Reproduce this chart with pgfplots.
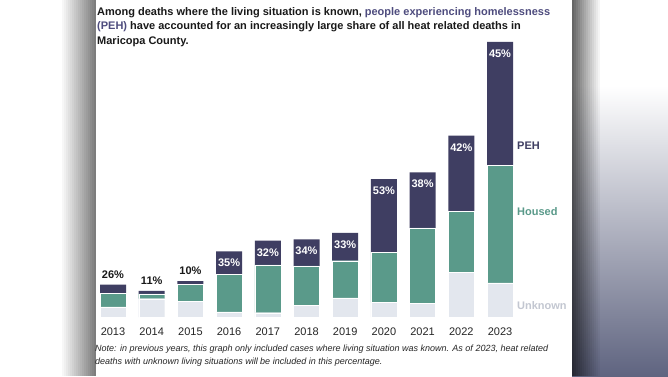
\documentclass[border=0pt]{standalone}
\usepackage{pgfplots}
\pgfplotsset{compat=1.18}
\usepackage{pgfplotstable}
\usepackage{fontspec}
\setmainfont{Liberation Sans}
\definecolor{peh}{HTML}{3F3E62}
\definecolor{housed}{HTML}{5A9A8A}
\definecolor{unknown}{HTML}{E3E7EE}
\definecolor{unklab}{HTML}{C3C7D1}
\definecolor{titlepeh}{HTML}{4E4C7E}
\definecolor{rightbot}{HTML}{5F6480}
\pgfplotstableread{
i peh hou unk tot
0 20 32 24 76
1 7 11 43 61
2 8 39 37 84
3 54 88 12 154
4 57 112 10 179
5 62 93 27 182
6 65 87 45 197
7 171 118 34 323
8 130 177 32 339
9 178 142 105 425
10 290 275 80 645
}\heatdata
\tikzset{
  pctout/.style={font=\bfseries\fontsize{11}{13}\selectfont, inner sep=0pt, anchor=south, yshift=6pt, text=black!90},
  pctin/.style={font=\bfseries\fontsize{11}{13}\selectfont, inner sep=0pt, anchor=north, yshift=-7.5pt, text=white},
  leglab/.style={font=\bfseries\fontsize{11}{13}\selectfont, inner sep=0pt, anchor=west}
}
\begin{document}
\begin{tikzpicture}[x=1pt,y=1pt]
\fill[white] (0,0) rectangle (668,376);
% left shadow
\foreach \i in {0,...,17} {\fill[black,opacity={0.03*\i}] ({60+2*\i},0) rectangle ++(2.05,376);}
% right background
\shade[top color=white, bottom color=rightbot] (572,0) rectangle (668,290);
\foreach \i in {0,...,13} {\fill[black,opacity={0.6-0.043*\i}] ({572+2*\i},0) rectangle ++(2.05,376);}
\begin{axis}[at={(93.65pt,59pt)}, anchor=south west, scale only axis,
  width=425.7pt, height=298.7pt, xmin=-0.5, xmax=10.5, ymin=0, ymax=700,
  ybar stacked, bar width=26pt,
  axis y line=none, axis x line=bottom, x axis line style={draw=none},
  xtick={0,...,10}, xticklabels={2013,2014,2015,2016,2017,2018,2019,2020,2021,2022,2023},
  major tick length=0pt,
  xticklabel style={font=\fontsize{11}{13}\selectfont, text=black!85, yshift=-7pt},
  clip=false]
\addplot[fill=unknown, draw=white, line width=0.3pt] table[x=i,y=unk]{\heatdata};
\addplot[fill=housed, draw=white, line width=0.3pt] table[x=i,y=hou]{\heatdata};
\addplot[fill=peh, draw=none] table[x=i,y=peh]{\heatdata};
\coordinate (b0) at (axis cs:0,76);
\coordinate (b1) at (axis cs:1,61);
\coordinate (b2) at (axis cs:2,84);
\coordinate (b3) at (axis cs:3,154);
\coordinate (b4) at (axis cs:4,179);
\coordinate (b5) at (axis cs:5,182);
\coordinate (b6) at (axis cs:6,197);
\coordinate (b7) at (axis cs:7,323);
\coordinate (b8) at (axis cs:8,339);
\coordinate (b9) at (axis cs:9,425);
\coordinate (b10) at (axis cs:10,645);
\end{axis}
\node[pctout] at (b0) {26\%};
\node[pctout] at (b1) {11\%};
\node[pctout] at (b2) {10\%};
\node[pctin] at (b3) {35\%};
\node[pctin] at (b4) {32\%};
\node[pctin] at (b5) {34\%};
\node[pctin] at (b6) {33\%};
\node[pctin] at (b7) {53\%};
\node[pctin] at (b8) {38\%};
\node[pctin] at (b9) {42\%};
\node[pctin] at (b10) {45\%};
\node[leglab, text=peh] at (517,230.3) {PEH};
\node[leglab, text=housed] at (517,164) {Housed};
\node[leglab, text=unklab] at (517,70.3) {Unknown};
\node[anchor=north west, inner sep=0pt, align=left, font=\bfseries\fontsize{11}{14.5}\selectfont, text=black!90] at (97,369)
{Among deaths where the living situation is known, {\color{titlepeh}people experiencing homelessness}\\
{\color{titlepeh}(PEH)} have accounted for an increasingly large share of all heat related deaths in\\
Maricopa County.};
\node[anchor=north west, inner sep=0pt, align=left, font=\itshape\fontsize{9}{12.6}\selectfont, text=black!85] at (95,31)
{Note: in previous years, this graph only included cases where living situation was known. As of 2023, heat related\\
deaths with unknown living situations will be included in this percentage.};
\end{tikzpicture}
\end{document}
